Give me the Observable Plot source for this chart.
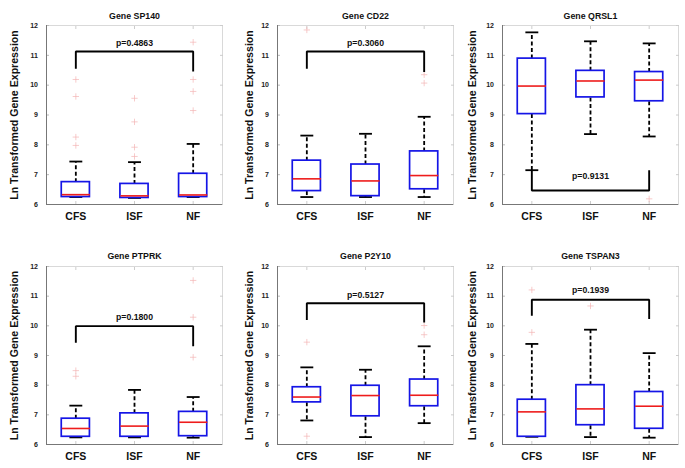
<!DOCTYPE html>
<html>
<head>
<meta charset="utf-8">
<script src="https://cdn.jsdelivr.net/npm/d3@7"></script>
<script src="https://cdn.jsdelivr.net/npm/@observablehq/plot@0.6"></script>
<style>
  body { margin: 0; background: white; }
  #fig { position: relative; width: 685px; height: 468px; overflow: hidden; background: white; }
  .panel { position: absolute; }
</style>
</head>
<body>
<div id="fig"></div>
<script>
const genes = ["SP140", "CD22", "QRSL1", "PTPRK", "P2Y10", "TSPAN3"];
const groups = ["CFS", "ISF", "NF"];
const yTicks = [6, 7, 8, 9, 10, 11, 12];
const yLabel = "Ln Transformed Gene Expression";
const pLabels = ["p=0.4863", "p=0.3060", "p=0.9131", "p=0.1800", "p=0.5127", "p=0.1939"];

// per gene, per group [CFS, ISF, NF]
const q1 = [
  [6.25, 6.22, 6.25],
  [6.45, 6.28, 6.51],
  [9.03, 9.59, 9.46],
  [6.26, 6.26, 6.28],
  [7.42, 6.95, 7.29],
  [6.26, 6.65, 6.53]
];
const medians = [
  [6.33, 6.29, 6.32],
  [6.86, 6.79, 6.97],
  [9.97, 10.14, 10.17],
  [6.54, 6.62, 6.75],
  [7.60, 7.65, 7.66],
  [7.10, 7.20, 7.29]
];
const q3 = [
  [6.75, 6.69, 7.03],
  [7.47, 7.34, 7.78],
  [10.89, 10.48, 10.44],
  [6.87, 7.05, 7.10],
  [7.93, 7.98, 8.19],
  [7.51, 8.00, 7.77]
];
const whiskerLow = [
  [6.25, 6.22, 6.25],
  [6.25, 6.25, 6.25],
  [7.15, 8.36, 8.28],
  [6.24, 6.24, 6.23],
  [6.81, 6.25, 6.72],
  [6.26, 6.25, 6.23]
];
const whiskerHigh = [
  [7.44, 7.42, 8.03],
  [8.31, 8.37, 8.94],
  [11.77, 11.47, 11.40],
  [7.31, 7.84, 7.60],
  [8.60, 8.52, 9.31],
  [9.39, 9.87, 9.08]
];
const outliers = [
  [[10.19, 9.62, 8.26, 7.98], [9.56, 8.77, 7.92, 7.61], [11.44, 10.19, 9.79, 9.15]],
  [[11.85], [], [10.35, 10.07]],
  [[], [], [6.19]],
  [[8.49, 8.30], [], [11.53, 10.29, 8.94]],
  [[9.45, 6.28], [], [10.01, 9.70]],
  [[11.21, 9.78], [10.67], []]
];
// significance bracket: horizontal level, end of CFS leg, end of NF leg, p label level
const bracketLevel = [11.13, 11.13, 6.47, 9.99, 10.76, 10.88];
const bracketCFSEnd = [10.55, 10.55, 7.15, 9.43, 10.20, 10.34];
const bracketNFEnd = [10.46, 10.44, 7.15, 9.31, 10.11, 10.23];
const pLabelLevel = [11.41, 11.41, 6.96, 10.29, 11.02, 11.19];

const font = "'Liberation Sans', Arial, Helvetica, sans-serif";
const colX = [0, 231, 456];
const rowY = [0, 241];
const labelDx = [-32, -28, -30];

const fig = document.getElementById("fig");

genes.forEach((gene, g) => {
  const col = g % 3, row = Math.floor(g / 3);
  const height = row === 0 ? 234 : 227;
  const marginBottom = row === 0 ? 30 : 24;

  const stats = groups.map((grp, i) => ({
    grp, x: i + 1,
    q1: q1[g][i], med: medians[g][i], q3: q3[g][i],
    lo: whiskerLow[g][i], hi: whiskerHigh[g][i]
  }));
  const outs = [];
  groups.forEach((grp, i) => outliers[g][i].forEach(v => outs.push({x: i + 1, v})));
  const bracket = [
    {x: 1, y: bracketCFSEnd[g]},
    {x: 1, y: bracketLevel[g]},
    {x: 3, y: bracketLevel[g]},
    {x: 3, y: bracketNFEnd[g]}
  ];
  const bw = 0.24, cw = 0.11;

  const chart = Plot.plot({
    width: 229,
    height,
    marginLeft: 46,
    marginRight: 7,
    marginTop: 25,
    marginBottom,
    x: {type: "linear", domain: [0.5, 3.5]},
    y: {type: "linear", domain: [6, 12]},
    style: {fontFamily: font, fontWeight: "bold", background: "white", color: "black", overflow: "visible"},
    marks: [
      Plot.frame({stroke: "#d9d9d9", strokeWidth: 1}),
      // inner ticks (MATLAB style)
      Plot.axisY({ticks: yTicks, tickSize: -3, tickFormat: () => "", label: null, stroke: "#bbb"}),
      Plot.axisY({anchor: "right", ticks: yTicks, tickSize: -3, tickFormat: () => "", label: null, stroke: "#ccc"}),
      Plot.axisX({anchor: "top", ticks: [1, 2, 3], tickSize: -3, tickFormat: () => "", label: null, stroke: "#ccc"}),
      Plot.axisX({ticks: [1, 2, 3], tickSize: -3, tickFormat: () => "", label: null, stroke: "#ccc"}),
      // tick labels
      Plot.axisY({ticks: yTicks, tickSize: 0, tickPadding: 8.5, label: null, fontSize: 7, fill: "#222",
                  tickFormat: d => String(d)}),
      Plot.axisX({ticks: [1, 2, 3], tickSize: 0, tickPadding: 8, label: null, fontSize: 10.5,
                  tickFormat: d => groups[d - 1], fill: "#111"}),
      Plot.ruleX([0.5], {stroke: "#777", strokeWidth: 1}),
      Plot.ruleY([6], {stroke: "#777", strokeWidth: 1}),
      // outliers
      Plot.dot(outs, {x: "x", y: "v", symbol: "plus", r: 2.2, stroke: "#f4b4b4", strokeWidth: 0.7}),
      // whiskers
      Plot.link(stats, {x1: "x", x2: "x", y1: "q3", y2: "hi", stroke: "black", strokeWidth: 1.8, strokeDasharray: "4,2.5"}),
      Plot.link(stats, {x1: "x", x2: "x", y1: "q1", y2: "lo", stroke: "black", strokeWidth: 1.8, strokeDasharray: "4,2.5"}),
      Plot.link(stats, {x1: d => d.x - cw, x2: d => d.x + cw, y1: "hi", y2: "hi", stroke: "black", strokeWidth: 1.8}),
      Plot.link(stats, {x1: d => d.x - cw, x2: d => d.x + cw, y1: "lo", y2: "lo", stroke: "black", strokeWidth: 1.8}),
      // boxes
      Plot.rect(stats, {x1: d => d.x - bw, x2: d => d.x + bw, y1: "q1", y2: "q3", fill: "white", stroke: "#1515e6", strokeWidth: 1.7}),
      Plot.link(stats, {x1: d => d.x - bw, x2: d => d.x + bw, y1: "med", y2: "med", stroke: "#ee1c1c", strokeWidth: 1.6}),
      // significance bracket
      Plot.line(bracket, {x: "x", y: "y", stroke: "black", strokeWidth: 1.9, strokeLinejoin: "miter", strokeLinecap: "butt"}),
      Plot.text([pLabels[g]], {x: () => 2, y: () => pLabelLevel[g], fontSize: 8.7, fill: "#111"}),
      // title and y label
      Plot.text([`Gene ${gene}`], {frameAnchor: "top", dy: row === 0 ? -12.7 : -13.5, fontSize: 8.8, fill: "#111", textAnchor: "middle"}),
      Plot.text([yLabel], {frameAnchor: "left", rotate: -90, dx: labelDx[col], fontSize: 10.6, fill: "#111", textAnchor: "middle"})
    ]
  });
  const div = document.createElement("div");
  div.className = "panel";
  div.style.left = colX[col] + "px";
  div.style.top = rowY[row] + "px";
  div.appendChild(chart);
  fig.appendChild(div);
});
</script>
</body>
</html>
